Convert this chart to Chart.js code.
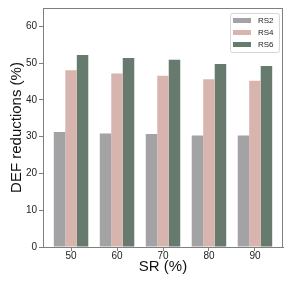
<!DOCTYPE html>
<html>
<head>
<meta charset="utf-8">
<script src="https://cdn.jsdelivr.net/npm/chart.js@4/dist/chart.umd.min.js"></script>
<style>
  html, body { margin: 0; padding: 0; background: #fff; }
  #wrap { width: 291px; height: 291px; }
</style>
</head>
<body>
<div id="wrap"><canvas id="chart" width="291" height="291"></canvas></div>
<script>
// SR (%) categories
const srValues = [50, 60, 70, 80, 90];
const seriesNames = ["RS2", "RS4", "RS6"];
const rs2 = [31.3, 30.9, 30.7, 30.3, 30.3];
const rs4 = [48.1, 47.2, 46.6, 45.6, 45.2];
const rs6 = [52.2, 51.4, 50.9, 49.8, 49.2];
const yTicks = [0, 10, 20, 30, 40, 50, 60];

const colors = ["#a3a3a5", "#d8b4ae", "#677a6e"];
const axisColor = "#7f7f7f";
const fontFamily = "'Liberation Sans', Arial, sans-serif";

function toPoints(vals) {
    return srValues.map((x, i) => ({ x: x, y: vals[i] }));
}

// frame around plot area (matplotlib style box)
const framePlugin = {
    id: "frame",
    afterDraw(chart) {
        const { ctx, chartArea: a } = chart;
        ctx.save();
        ctx.strokeStyle = axisColor;
        ctx.lineWidth = 1;
        ctx.strokeRect(a.left + 0.5, a.top + 0.5, a.right - a.left - 1, a.bottom - a.top);
        ctx.restore();
    }
};

// legend drawn inside the plot, top right
const insideLegend = {
    id: "insideLegend",
    afterDraw(chart) {
        const { ctx, chartArea: a } = chart;
        const sets = chart.data.datasets;
        const boxW = 49, boxH = 39;
        const x0 = a.right - 4 - boxW;
        const y0 = a.top + 5;
        ctx.save();
        ctx.fillStyle = "rgba(255,255,255,0.9)";
        ctx.strokeStyle = "#d6d6d6";
        ctx.lineWidth = 1;
        ctx.beginPath();
        ctx.roundRect(x0 + 0.5, y0 + 0.5, boxW, boxH, 2);
        ctx.fill();
        ctx.stroke();
        ctx.font = "8px " + fontFamily;
        ctx.textBaseline = "middle";
        sets.forEach((ds, i) => {
            const cy = y0 + 7.5 + i * 12;
            ctx.fillStyle = ds.backgroundColor;
            ctx.fillRect(x0 + 3, cy - 2.5, 18, 5);
            ctx.fillStyle = "#222";
            ctx.fillText(ds.label, x0 + 28, cy + 0.5);
        });
        ctx.restore();
    }
};

new Chart(document.getElementById("chart"), {
    type: "bar",
    data: {
        datasets: [rs2, rs4, rs6].map((vals, i) => ({
            label: seriesNames[i],
            data: toPoints(vals),
            backgroundColor: colors[i],
            borderWidth: 0,
            categoryPercentage: 0.75,
            barPercentage: 1.0
        }))
    },
    options: {
        responsive: false,
        animation: false,
        layout: { padding: { top: 8, right: 8, left: 0, bottom: 0 } },
        plugins: {
            legend: { display: false },
            tooltip: { enabled: false }
        },
        scales: {
            x: {
                type: "linear",
                offset: false,
                min: 43.9,
                max: 96.1,
                afterBuildTicks(scale) {
                    scale.ticks = srValues.map(v => ({ value: v }));
                },
                afterFit(scale) { scale.height = 44; },
                grid: {
                    display: true,
                    offset: false,
                    drawOnChartArea: false,
                    drawTicks: true,
                    tickLength: 4,
                    color: axisColor
                },
                border: { display: true, color: axisColor },
                ticks: {
                    padding: -1,
                    color: "#222",
                    font: { family: fontFamily, size: 10 },
                    maxRotation: 0
                },
                title: {
                    display: true,
                    text: "SR (%)",
                    color: "#111",
                    font: { family: fontFamily, size: 15 },
                    padding: { top: 0, bottom: 15 }
                }
            },
            y: {
                min: 0,
                max: 65,
                afterBuildTicks(scale) {
                    scale.ticks = yTicks.map(v => ({ value: v }));
                },
                afterFit(scale) { scale.width = 43; },
                grid: {
                    display: true,
                    drawOnChartArea: false,
                    drawTicks: true,
                    tickLength: 4,
                    color: axisColor
                },
                border: { display: true, color: axisColor },
                ticks: {
                    padding: 2,
                    color: "#222",
                    font: { family: fontFamily, size: 10 }
                },
                title: {
                    display: true,
                    text: "DEF reductions (%)",
                    color: "#111",
                    font: { family: fontFamily, size: 15 },
                    padding: { top: 8, bottom: 0 }
                }
            }
        }
    },
    plugins: [framePlugin, insideLegend]
});
</script>
</body>
</html>
